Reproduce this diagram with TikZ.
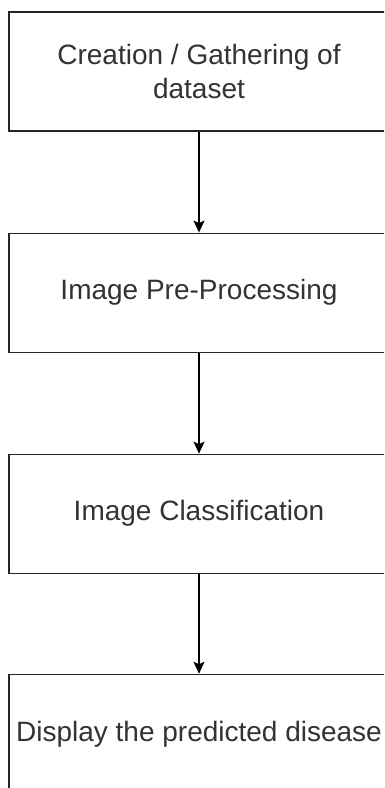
\documentclass[tikz,border=0pt]{standalone}
\usepackage{fontspec}
\setmainfont{Liberation Sans}
\usetikzlibrary{positioning, arrows.meta}
\newcommand{\linecolor}{black!85}
\newcommand{\labelcolor}{black!80}

\begin{document}
\begin{tikzpicture}[x=1pt,y=-1pt,
	stepbox/.style={draw=\linecolor, line width=1.1pt, fill=white, minimum width=380pt, minimum height=119pt, align=center, text=\labelcolor, font=\fontsize{28}{33.6}\selectfont},
	flow/.style={-{Stealth[length=12pt,width=11pt,inset=2.5pt]}, draw=black, line width=1.2pt},
	node distance=101pt]
	\useasboundingbox (0,0) rectangle (384,788);
	\clip (0,0) rectangle (384,788);
	% boxes
	\node [stepbox] at (199,71.5) (gather) {Creation / Gathering of\\dataset};
	\node [stepbox, below=of gather] (preproc) {Image Pre-Processing};
	\node [stepbox, below=of preproc] (classify) {Image Classification};
	\node [stepbox, below=100pt of classify] (display) {Display the predicted disease};
	% arrows
	\draw [flow] (gather) -- (preproc);
	\draw [flow] (preproc) -- (classify);
	\draw [flow] (classify) -- (display);
\end{tikzpicture}
\end{document}
